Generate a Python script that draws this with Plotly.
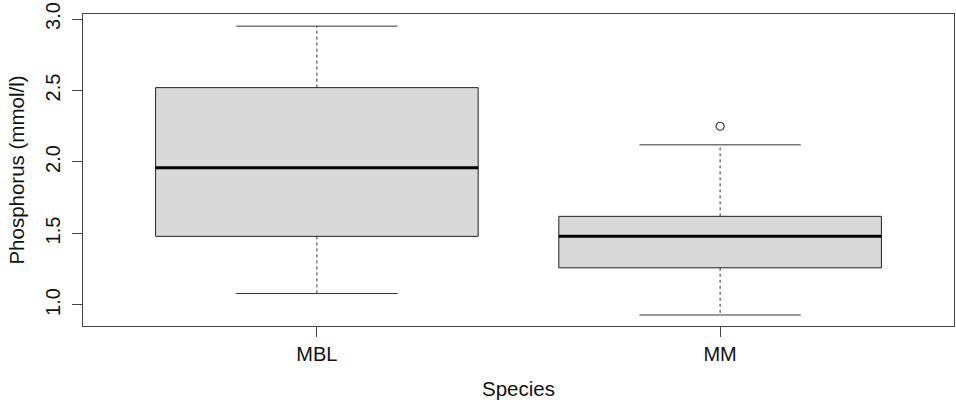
import plotly.graph_objects as go

# ---- data ----
species = ["MBL", "MM"]
lower_whisker = [1.08, 0.93]
q1 = [1.48, 1.26]
median = [1.96, 1.48]
q3 = [2.52, 1.62]
upper_whisker = [2.95, 2.12]
outlier_species = ["MM"]
outlier_values = [2.25]
y_ticks = [1.0, 1.5, 2.0, 2.5, 3.0]

BOX_HALF = 0.4
CAP_HALF = 0.2
pos = {s: i + 1 for i, s in enumerate(species)}

fig = go.Figure()

# boxes
bx, by = [], []
for s, a, b in zip(species, q1, q3):
    p = pos[s]
    bx += [p - BOX_HALF, p + BOX_HALF, p + BOX_HALF, p - BOX_HALF, p - BOX_HALF, None]
    by += [a, a, b, b, a, None]
fig.add_trace(go.Scatter(x=bx, y=by, mode="lines", fill="toself", fillcolor="#d9d9d9",
                         line=dict(color="#222222", width=1), hoverinfo="skip"))

# dashed whiskers
wx, wy = [], []
for s, lo, a, b, hi in zip(species, lower_whisker, q1, q3, upper_whisker):
    p = pos[s]
    wx += [p, p, None, p, p, None]
    wy += [b, hi, None, a, lo, None]
fig.add_trace(go.Scatter(x=wx, y=wy, mode="lines",
                         line=dict(color="#333333", width=1, dash="3px,3px"), hoverinfo="skip"))

# caps
cx, cy = [], []
for s, lo, hi in zip(species, lower_whisker, upper_whisker):
    p = pos[s]
    cx += [p - CAP_HALF, p + CAP_HALF, None, p - CAP_HALF, p + CAP_HALF, None]
    cy += [hi, hi, None, lo, lo, None]
fig.add_trace(go.Scatter(x=cx, y=cy, mode="lines",
                         line=dict(color="#333333", width=1), hoverinfo="skip"))

# medians
mx, my = [], []
for s, m in zip(species, median):
    p = pos[s]
    mx += [p - BOX_HALF, p + BOX_HALF, None]
    my += [m, m, None]
fig.add_trace(go.Scatter(x=mx, y=my, mode="lines",
                         line=dict(color="black", width=3), hoverinfo="skip"))

# outliers
fig.add_trace(go.Scatter(x=[pos[s] for s in outlier_species], y=outlier_values, mode="markers",
                         marker=dict(symbol="circle-open", size=8, color="#333333",
                                     line=dict(width=1.2)),
                         hoverinfo="skip"))

FAMILY = "Liberation Sans, Arial, sans-serif"
tick_font = dict(family=FAMILY, size=20, color="#111111")
title_font = dict(family=FAMILY, size=20.5, color="#111111")

fig.update_layout(
    width=956, height=404,
    margin=dict(l=83, r=2, t=14, b=78),
    paper_bgcolor="white", plot_bgcolor="white",
    showlegend=False,
    font=tick_font,
    xaxis=dict(range=[0.42, 2.58], tickmode="array", tickvals=[pos[s] for s in species],
               ticktext=species, ticks="outside", ticklen=10, tickcolor="#444444",
               tickfont=tick_font,
               showline=True, linecolor="#444444", linewidth=1, mirror=True,
               showgrid=False, zeroline=False, ticklabelstandoff=0, automargin=False,
               title=dict(text="Species", standoff=17, font=title_font)),
    yaxis=dict(range=[0.853, 3.035], tickmode="array", tickvals=y_ticks,
               ticktext=[f"{v:.1f}" for v in y_ticks], tickangle=-90,
               ticks="outside", ticklen=10, tickcolor="#444444",
               tickfont=tick_font,
               showline=True, linecolor="#444444", linewidth=1, mirror=True,
               showgrid=False, zeroline=False, ticklabelstandoff=4, automargin=False,
               title=dict(text="Phosphorus (mmol/l)", standoff=11, font=title_font)),
)

fig.write_html("out.html", config={"displayModeBar": False},
               post_script="document.body.style.margin='0';document.body.style.padding='0';")
